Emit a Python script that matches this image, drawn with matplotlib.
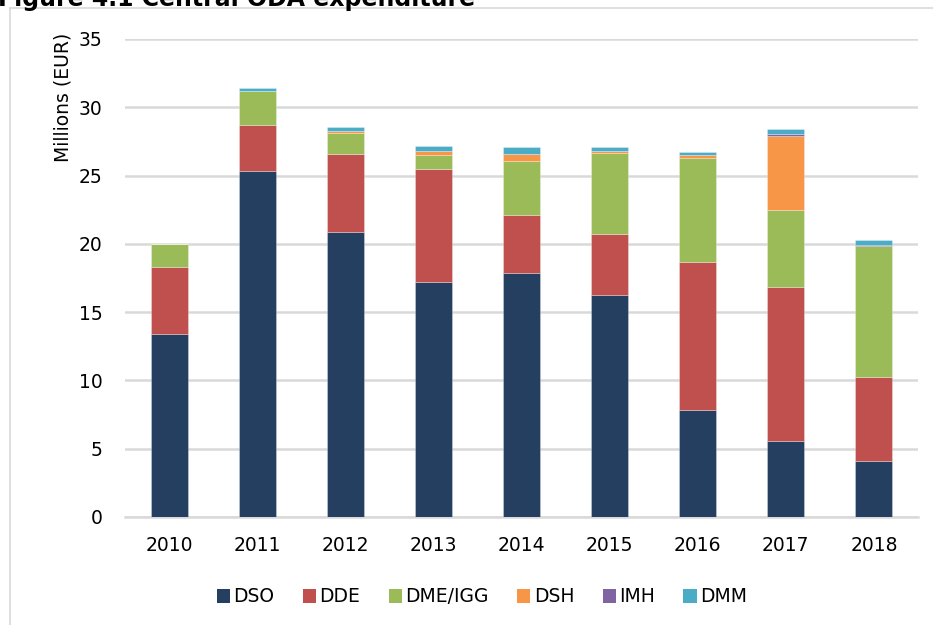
import matplotlib
matplotlib.use("Agg")
import matplotlib.pyplot as plt
from matplotlib.lines import Line2D
from matplotlib.patches import Patch
import numpy as np

years = ["2010", "2011", "2012", "2013", "2014", "2015", "2016", "2017", "2018"]
series_names = ["DSO", "DDE", "DME/IGG", "DSH", "IMH", "DMM"]
dso = [13.4, 25.3, 20.9, 17.2, 17.9, 16.25, 7.8, 5.6, 4.1]
dde = [4.9, 3.4, 5.7, 8.3, 4.2, 4.5, 10.9, 11.25, 6.15]
dme = [1.7, 2.5, 1.5, 1.0, 4.0, 5.9, 7.6, 5.65, 9.6]
dsh = [0.0, 0.0, 0.15, 0.3, 0.5, 0.15, 0.2, 5.4, 0.0]
imh = [0.0, 0.0, 0.0, 0.0, 0.0, 0.0, 0.0, 0.15, 0.1]
dmm = [0.0, 0.2, 0.3, 0.35, 0.5, 0.3, 0.25, 0.35, 0.35]
colors = ["#253F60", "#C0504D", "#9BBB59", "#F79646", "#8064A2", "#4BACC6"]
yticks = [0, 5, 10, 15, 20, 25, 30, 35]

plt.rcParams['font.family'] = ['DejaVu Sans']
FS = 13.5
W, H = 933, 625
fig = plt.figure(figsize=(W / 100, H / 100), dpi=100)
ax = fig.add_axes([125 / W, 1 - 517 / H, 793 / W, 478 / H])

x = np.arange(len(years))
bottom = np.zeros(len(years))
for name, vals, c in zip(series_names, [dso, dde, dme, dsh, imh, dmm], colors):
    v = np.array(vals)
    ax.bar(x, v, 0.42, bottom=bottom, color=c, edgecolor=(1, 1, 1, 0.5),
           linewidth=0.4, zorder=3, label=name)
    bottom += v

ax.set_xlim(-0.5, len(years) - 0.5)
ax.set_ylim(0, 35)
ax.set_yticks(yticks)
ax.set_xticks(x)
ax.set_xticklabels(years)
ax.tick_params(axis='both', length=0, labelsize=FS, colors='black')
ax.tick_params(axis='y', pad=16)
ax.tick_params(axis='x', pad=14)
ax.grid(axis='y', color='#D9D9D9', linewidth=1.8, zorder=0)
for s in ['top', 'right', 'left']:
    ax.spines[s].set_visible(False)
ax.spines['bottom'].set_color('#D9D9D9')
ax.spines['bottom'].set_linewidth(1.8)

fig.text(63 / W, 1 - 97 / H, "Millions (EUR)", rotation=90, ha='center',
         va='center', fontsize=FS)

fig.text(-2 / W, 1 - 6 / H, "Figure 4.1 Central ODA expenditure",
         fontsize=17, fontweight='bold', ha='left', va='baseline')

# frame
fig.add_artist(Line2D([10 / W, 10 / W], [0, 1 - 8 / H], transform=fig.transFigure,
                      color='#D9D9D9', linewidth=1.2))
fig.add_artist(Line2D([10 / W, 1], [1 - 8 / H, 1 - 8 / H], transform=fig.transFigure,
                      color='#D9D9D9', linewidth=1.2))

handles = [Patch(facecolor=c, edgecolor='none') for c in colors]
fig.legend(handles, series_names, loc='center', bbox_to_anchor=(482 / W, 1 - 597 / H),
           ncol=6, frameon=False, fontsize=FS, handlelength=0.7, handleheight=0.7,
           handletextpad=0.2, columnspacing=1.5)

fig.savefig("out.png", dpi=100)
